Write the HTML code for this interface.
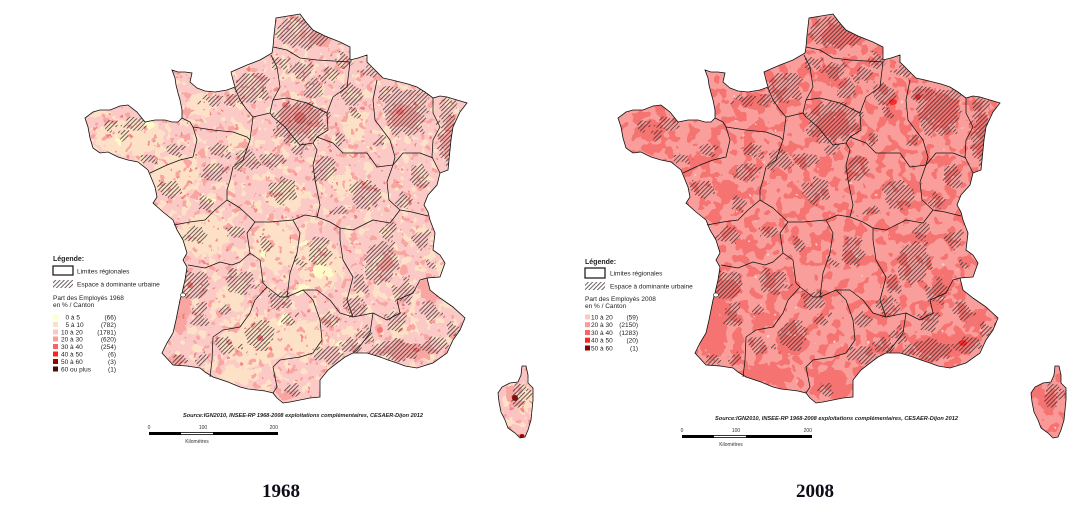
<!DOCTYPE html>
<html><head><meta charset="utf-8"><style>
html,body{margin:0;padding:0;background:#fff;}
svg{display:block;}
.s{font-family:"Liberation Sans",Arial,sans-serif;}
.yr{font-family:"Liberation Serif","Times New Roman",serif;font-weight:bold;font-size:19px;}
</style></head><body>
<svg width="1079" height="524" viewBox="0 0 1079 524" xmlns="http://www.w3.org/2000/svg">
<defs>
<path id="fr" d="M300,14 L306,22 313,30 325,36 340,42 350,47 350,60 358,58 367,55 367,62 375,70 383,78 392,80 400,82 408,84 417,87 425,92 433,98 440,96 447,97 457,100 467,103 460,112 453,127 451,140 450,150 449,160 448,170 440,173 437,185 428,195 424,205 428,212 430,220 435,233 433,250 440,255 445,263 440,277 427,278 430,290 440,298 453,307 465,318 460,330 453,340 447,353 433,363 417,368 405,366 397,363 388,360 380,357 367,353 353,353 345,357 337,363 328,370 320,380 320,390 320,397 310,398 300,400 290,402 283,403 277,398 273,393 265,391 257,390 248,389 240,387 228,382 213,377 205,372 200,368 187,366 173,365 162,353 167,343 173,333 176,320 178,310 180,300 182,293 185,280 187,267 183,260 187,253 183,240 177,230 173,220 163,212 153,203 157,197 155,187 148,170 138,162 128,160 118,157 108,152 100,153 93,148 90,138 88,127 85,118 93,112 100,110 110,110 120,106 128,105 137,112 145,122 155,120 165,120 172,122 178,122 182,118 182,110 180,100 178,93 176,85 175,78 172,70 178,72 185,72 192,73 190,82 197,88 205,91 215,92 227,90 235,87 233,80 231,72 240,68 247,65 260,60 272,53 273,47 274,35 276,18 288,16 Z"/>
<path id="co" d="M522,366 L526,366 528,375 528,383 533,388 533,400 532,410 531,420 528,430 525,437 520,438 515,433 508,428 505,420 501,412 499,402 498,393 502,387 510,383 518,382 521,375 Z"/>
<clipPath id="cf"><use href="#fr"/><use href="#co"/></clipPath>
<pattern id="h" width="3" height="3" patternUnits="userSpaceOnUse" patternTransform="rotate(45)">
<line x1="0.5" y1="0" x2="0.5" y2="3" stroke="#3a2a2a" stroke-width="0.75"/>
</pattern>

<filter id="rough" x="-15%" y="-15%" width="130%" height="130%">
<feTurbulence type="fractalNoise" baseFrequency="0.11" numOctaves="2" seed="5" result="t"/>
<feDisplacementMap in="SourceGraphic" in2="t" scale="16" xChannelSelector="R" yChannelSelector="G"/>
</filter>
<filter id="rough2" x="-15%" y="-15%" width="130%" height="130%">
<feTurbulence type="fractalNoise" baseFrequency="0.14" numOctaves="2" seed="11" result="t"/>
<feDisplacementMap in="SourceGraphic" in2="t" scale="14" xChannelSelector="R" yChannelSelector="G"/>
</filter>

<filter id="spCream" filterUnits="userSpaceOnUse" x="0" y="0" width="560" height="460" color-interpolation-filters="sRGB">
<feTurbulence type="fractalNoise" baseFrequency="0.11" numOctaves="2" seed="3"/>
<feColorMatrix type="matrix" values="0 0 0 0 0.992  0 0 0 0 0.886  0 0 0 0 0.78  1 0 0 0 0"/>
<feComponentTransfer><feFuncA type="discrete" tableValues="0 0 0 0 0 0 0 0 0 0 0 0 1 1 1 1 1 1 1 1"/></feComponentTransfer>
</filter>
<filter id="spDark1" filterUnits="userSpaceOnUse" x="0" y="0" width="560" height="460" color-interpolation-filters="sRGB">
<feTurbulence type="fractalNoise" baseFrequency="0.12" numOctaves="2" seed="21"/>
<feColorMatrix type="matrix" values="0 0 0 0 0.976  0 0 0 0 0.65  0 0 0 0 0.64  1 0 0 0 0"/>
<feComponentTransfer><feFuncA type="discrete" tableValues="0 0 0 0 0 0 0 0 0 0 0 0 0 1 1 1 1 1 1 1"/></feComponentTransfer>
</filter>
<filter id="spSal1" filterUnits="userSpaceOnUse" x="0" y="0" width="560" height="460" color-interpolation-filters="sRGB">
<feTurbulence type="fractalNoise" baseFrequency="0.15" numOctaves="2" seed="41"/>
<feColorMatrix type="matrix" values="0 0 0 0 0.96  0 0 0 0 0.40  0 0 0 0 0.40  1 0 0 0 0"/>
<feComponentTransfer><feFuncA type="discrete" tableValues="0 0 0 0 0 0 0 0 0 0 0 0 0 0 0 1 1 1 1 1"/></feComponentTransfer>
</filter>
<filter id="spDark2" filterUnits="userSpaceOnUse" x="0" y="0" width="560" height="460" color-interpolation-filters="sRGB">
<feTurbulence type="fractalNoise" baseFrequency="0.09" numOctaves="2" seed="9"/>
<feColorMatrix type="matrix" values="0 0 0 0 0.96  0 0 0 0 0.45  0 0 0 0 0.44  1 0 0 0 0"/>
<feComponentTransfer><feFuncA type="discrete" tableValues="0 0 0 0 0 0 0 0 0 0 0 1 1 1 1 1 1 1 1 1"/></feComponentTransfer>
</filter>
<filter id="spLight2" filterUnits="userSpaceOnUse" x="0" y="0" width="560" height="460" color-interpolation-filters="sRGB">
<feTurbulence type="fractalNoise" baseFrequency="0.15" numOctaves="2" seed="31"/>
<feColorMatrix type="matrix" values="0 0 0 0 0.99  0 0 0 0 0.78  0 0 0 0 0.77  1 0 0 0 0"/>
<feComponentTransfer><feFuncA type="discrete" tableValues="0 0 0 0 0 0 0 0 0 0 0 0 0 0 0 0 1 1 1 1"/></feComponentTransfer>
</filter>

<mask id="hm" maskUnits="userSpaceOnUse" x="0" y="0" width="560" height="460">
<g fill="#fff" filter="url(#rough)">
<ellipse cx="305" cy="32" rx="28" ry="16"/>
<ellipse cx="300" cy="70" rx="12" ry="8"/>
<ellipse cx="330" cy="75" rx="8" ry="6"/>
<ellipse cx="280" cy="62" rx="8" ry="6"/>
<ellipse cx="252" cy="88" rx="18" ry="15"/>
<ellipse cx="232" cy="100" rx="6" ry="5"/>
<ellipse cx="300" cy="122" rx="27" ry="20"/>
<ellipse cx="315" cy="88" rx="10" ry="8"/>
<ellipse cx="350" cy="95" rx="10" ry="10"/>
<ellipse cx="340" cy="140" rx="6" ry="6"/>
<ellipse cx="405" cy="112" rx="22" ry="24"/>
<ellipse cx="422" cy="95" rx="8" ry="6"/>
<ellipse cx="448" cy="130" rx="9" ry="35"/>
<ellipse cx="420" cy="178" rx="9" ry="11"/>
<ellipse cx="135" cy="125" rx="13" ry="7"/>
<ellipse cx="125" cy="138" rx="6" ry="5"/>
<ellipse cx="175" cy="150" rx="8" ry="7"/>
<ellipse cx="150" cy="160" rx="9" ry="5"/>
<ellipse cx="170" cy="190" rx="11" ry="9"/>
<ellipse cx="215" cy="172" rx="12" ry="9"/>
<ellipse cx="245" cy="160" rx="12" ry="10"/>
<ellipse cx="220" cy="150" rx="9" ry="7"/>
<ellipse cx="210" cy="100" rx="10" ry="6"/>
<ellipse cx="272" cy="160" rx="11" ry="9"/>
<ellipse cx="285" cy="190" rx="14" ry="12"/>
<ellipse cx="325" cy="170" rx="12" ry="12"/>
<ellipse cx="365" cy="195" rx="16" ry="14"/>
<ellipse cx="382" cy="262" rx="16" ry="22"/>
<ellipse cx="405" cy="292" rx="11" ry="11"/>
<ellipse cx="420" cy="240" rx="9" ry="9"/>
<ellipse cx="360" cy="285" rx="8" ry="8"/>
<ellipse cx="320" cy="252" rx="10" ry="14"/>
<ellipse cx="195" cy="235" rx="11" ry="9"/>
<ellipse cx="235" cy="232" rx="10" ry="6"/>
<ellipse cx="265" cy="245" rx="8" ry="8"/>
<ellipse cx="240" cy="282" rx="14" ry="12"/>
<ellipse cx="195" cy="285" rx="14" ry="14"/>
<ellipse cx="260" cy="335" rx="14" ry="14"/>
<ellipse cx="180" cy="360" rx="8" ry="5"/>
<ellipse cx="200" cy="360" rx="6" ry="4"/>
<ellipse cx="330" cy="355" rx="15" ry="8"/>
<ellipse cx="350" cy="345" rx="8" ry="6"/>
<ellipse cx="395" cy="350" rx="25" ry="10"/>
<ellipse cx="435" cy="345" rx="15" ry="8"/>
<ellipse cx="455" cy="330" rx="8" ry="6"/>
<ellipse cx="290" cy="390" rx="8" ry="5"/>
<ellipse cx="365" cy="335" rx="8" ry="8"/>
<ellipse cx="520" cy="395" rx="8" ry="12"/>
<ellipse cx="355" cy="112" rx="6" ry="5"/>
<ellipse cx="380" cy="140" rx="5" ry="6"/>
<ellipse cx="205" cy="205" rx="8" ry="8"/>
<ellipse cx="300" cy="150" rx="8" ry="6"/>
<ellipse cx="390" cy="230" rx="8" ry="8"/>
<ellipse cx="355" cy="305" rx="10" ry="10"/>
<ellipse cx="280" cy="300" rx="10" ry="8"/>
<ellipse cx="225" cy="345" rx="10" ry="8"/>
<ellipse cx="200" cy="315" rx="8" ry="10"/>
<ellipse cx="330" cy="320" rx="8" ry="8"/>
<ellipse cx="395" cy="322" rx="10" ry="10"/>
<ellipse cx="430" cy="310" rx="8" ry="10"/>
<ellipse cx="405" cy="200" rx="8" ry="8"/>
<ellipse cx="370" cy="70" rx="10" ry="8"/>
<ellipse cx="385" cy="95" rx="8" ry="8"/>
<ellipse cx="345" cy="60" rx="10" ry="6"/>
<ellipse cx="110" cy="125" rx="6" ry="5"/>
<ellipse cx="240" cy="60" rx="8" ry="6"/>
<ellipse cx="340" cy="210" rx="6" ry="5"/>
<ellipse cx="290" cy="320" rx="6" ry="5"/>
<ellipse cx="225" cy="310" rx="5" ry="5"/>
<ellipse cx="300" cy="262" rx="6" ry="6"/>
<ellipse cx="240" cy="350" rx="5" ry="4"/>
<ellipse cx="430" cy="262" rx="5" ry="6"/>
</g>
</mask>

<g id="regs" fill="none" stroke="#111" stroke-width="0.75" stroke-linejoin="round">
<polyline points="273,47 287,50 300,58 317,60 350,62"/>
<polyline points="235,88 240,100 247,110 253,117 270,113 273,100 280,87 277,67 271,55"/>
<polyline points="273,100 287,98 307,103 327,113 328,130 317,137 313,143 300,145 293,137 285,127 273,117 270,113"/>
<polyline points="350,62 347,87 333,97 327,113"/>
<polyline points="377,80 373,100 375,120 390,140 395,157 393,165"/>
<polyline points="433,98 433,113 440,127 433,140 432,157 440,173"/>
<polyline points="393,165 403,153 420,153 433,158"/>
<polyline points="317,137 333,143 343,153 367,153 377,167 393,165"/>
<polyline points="393,165 387,182 389,200 400,210 412,212 428,216"/>
<polyline points="400,210 390,223 373,220 353,230 340,228"/>
<polyline points="313,143 317,150 313,165 315,180 320,205 317,217"/>
<polyline points="317,217 330,222 340,228"/>
<polyline points="253,117 250,140 243,160 233,167 230,180 227,190 227,200 240,208 255,222"/>
<polyline points="255,222 270,222 293,220 305,215 317,217"/>
<polyline points="182,118 190,122 193,127 213,130 233,132 247,137 250,140"/>
<polyline points="193,127 197,140 193,157 180,160 167,165 150,173"/>
<polyline points="174,225 190,222 205,220 215,210 227,200"/>
<polyline points="188,265 205,268 220,262 232,265 240,262 250,253 247,233 255,222"/>
<polyline points="250,253 260,260 263,283 267,287"/>
<polyline points="267,287 255,300 250,313 240,327 223,330 213,337 212,360 210,377"/>
<polyline points="293,220 300,233 297,253 290,273 287,297"/>
<polyline points="267,287 280,297 287,297 303,290 317,290"/>
<polyline points="317,290 330,300 340,313 353,317"/>
<polyline points="340,228 340,240 343,260 353,277 347,300 353,317"/>
<polyline points="303,290 313,300 320,320 322,340 313,353 300,357 280,360 273,367 277,387 273,393"/>
<polyline points="353,317 373,313 387,320 400,313 397,300 413,293 420,280 427,278"/>
<polyline points="373,313 370,333 357,350 353,353"/>
</g>
</defs>

<!-- ============ MAP 1968 ============ -->
<g>
<use href="#fr" fill="#fbc9c6"/>
<use href="#co" fill="#fbc4c2"/>
<g clip-path="url(#cf)">
<g fill="#fde1c6" filter="url(#rough2)">
<ellipse cx="130" cy="137" rx="35" ry="18"/>
<ellipse cx="175" cy="175" rx="25" ry="20"/>
<ellipse cx="200" cy="105" rx="15" ry="12"/>
<ellipse cx="205" cy="235" rx="25" ry="20"/>
<ellipse cx="275" cy="245" rx="22" ry="25"/>
<ellipse cx="320" cy="265" rx="22" ry="25"/>
<ellipse cx="255" cy="340" rx="35" ry="25"/>
<ellipse cx="305" cy="340" rx="20" ry="20"/>
<ellipse cx="285" cy="195" rx="20" ry="15"/>
<ellipse cx="345" cy="185" rx="12" ry="12"/>
<ellipse cx="240" cy="375" rx="20" ry="8"/>
<ellipse cx="355" cy="125" rx="12" ry="15"/>
<ellipse cx="230" cy="300" rx="15" ry="12"/>
<ellipse cx="240" cy="140" rx="12" ry="10"/>
<ellipse cx="525" cy="400" rx="6" ry="15"/>
<ellipse cx="400" cy="330" rx="8" ry="6"/>
</g>
<rect x="0" y="0" width="560" height="460" filter="url(#spCream)"/>
<rect x="0" y="0" width="560" height="460" filter="url(#spDark1)"/>
<g fill="#fffbc8" filter="url(#rough)">
<ellipse cx="322" cy="270" rx="10" ry="8"/>
<ellipse cx="300" cy="290" rx="6" ry="5"/>
<ellipse cx="120" cy="140" rx="6" ry="4"/>
<ellipse cx="150" cy="125" rx="5" ry="4"/>
<ellipse cx="262" cy="255" rx="5" ry="5"/>
<ellipse cx="285" cy="320" rx="6" ry="4"/>
<ellipse cx="210" cy="200" rx="5" ry="4"/>
<ellipse cx="340" cy="345" rx="5" ry="4"/>
<ellipse cx="300" cy="245" rx="5" ry="4"/>
</g>
<g fill="#f9a5a2" filter="url(#rough)">
<ellipse cx="300" cy="120" rx="20" ry="15"/>
<ellipse cx="405" cy="115" rx="15" ry="12"/>
<ellipse cx="180" cy="305" rx="10" ry="30"/>
<ellipse cx="410" cy="350" rx="25" ry="8"/>
<ellipse cx="320" cy="40" rx="12" ry="8"/>
<ellipse cx="450" cy="140" rx="6" ry="25"/>
<ellipse cx="175" cy="360" rx="10" ry="6"/>
<ellipse cx="285" cy="395" rx="8" ry="5"/>
<ellipse cx="385" cy="265" rx="8" ry="8"/>
<ellipse cx="430" cy="290" rx="10" ry="12"/>
<ellipse cx="510" cy="395" rx="6" ry="8"/>
</g>
<rect x="0" y="0" width="560" height="460" filter="url(#spSal1)" opacity="0.7"/>
<g fill="#f47676">
<ellipse cx="300" cy="118" rx="6" ry="6"/>
<ellipse cx="285" cy="105" rx="3" ry="3"/>
<ellipse cx="380" cy="330" rx="3" ry="3"/>
<ellipse cx="190" cy="285" rx="3" ry="3"/>
<ellipse cx="400" cy="112" rx="4" ry="3"/>
<ellipse cx="260" cy="338" rx="3" ry="3"/>
<ellipse cx="417" cy="350" rx="4" ry="2"/>
</g>
<ellipse cx="515" cy="398" rx="3" ry="3" fill="#a00000"/>
<ellipse cx="522" cy="436" rx="2.5" ry="2" fill="#a00000"/>
<rect x="0" y="0" width="560" height="460" fill="url(#h)" mask="url(#hm)"/>
</g>
<use href="#fr" fill="none" stroke="#111" stroke-width="0.8"/>
<use href="#co" fill="none" stroke="#111" stroke-width="0.8"/>
<use href="#regs"/>
<ellipse cx="183" cy="295" rx="2.5" ry="2" fill="#fff" stroke="#111" stroke-width="0.6"/>
</g>

<!-- ============ MAP 2008 ============ -->
<g transform="translate(533,0)">
<use href="#fr" fill="#fa9e9c"/>
<use href="#co" fill="#fa9a98"/>
<g clip-path="url(#cf)">
<rect x="0" y="0" width="560" height="460" filter="url(#spDark2)"/>
<g fill="#f57371" filter="url(#rough2)">
<ellipse cx="180" cy="320" rx="15" ry="40"/>
<ellipse cx="235" cy="375" rx="30" ry="10"/>
<ellipse cx="300" cy="380" rx="15" ry="12"/>
<ellipse cx="195" cy="290" rx="12" ry="10"/>
<ellipse cx="120" cy="130" rx="15" ry="10"/>
<ellipse cx="165" cy="160" rx="10" ry="8"/>
<ellipse cx="310" cy="35" rx="20" ry="12"/>
<ellipse cx="300" cy="125" rx="18" ry="12"/>
<ellipse cx="410" cy="110" rx="15" ry="15"/>
<ellipse cx="410" cy="345" rx="30" ry="12"/>
<ellipse cx="410" cy="285" rx="12" ry="12"/>
<ellipse cx="215" cy="245" rx="10" ry="8"/>
<ellipse cx="260" cy="345" rx="15" ry="10"/>
<ellipse cx="290" cy="165" rx="8" ry="8"/>
<ellipse cx="360" cy="115" rx="8" ry="8"/>
<ellipse cx="295" cy="75" rx="12" ry="8"/>
<ellipse cx="220" cy="100" rx="12" ry="8"/>
<ellipse cx="195" cy="190" rx="12" ry="10"/>
<ellipse cx="230" cy="320" rx="10" ry="8"/>
<ellipse cx="450" cy="135" rx="6" ry="20"/>
<ellipse cx="515" cy="405" rx="8" ry="12"/>
<ellipse cx="440" cy="320" rx="12" ry="10"/>
</g>
<rect x="0" y="0" width="560" height="460" filter="url(#spLight2)"/>
<g fill="#ff2a2a">
<ellipse cx="360" cy="102" rx="4" ry="3"/>
<ellipse cx="385" cy="97" rx="3" ry="3"/>
<ellipse cx="464" cy="325" rx="3" ry="3"/>
<ellipse cx="430" cy="343" rx="4" ry="3"/>
</g>
<rect x="0" y="0" width="560" height="460" fill="url(#h)" mask="url(#hm)"/>
</g>
<use href="#fr" fill="none" stroke="#111" stroke-width="0.8"/>
<use href="#co" fill="none" stroke="#111" stroke-width="0.8"/>
<use href="#regs"/>
<ellipse cx="183" cy="295" rx="2.5" ry="2" fill="#fff" stroke="#111" stroke-width="0.6"/>
</g>

<!-- ============ LEGEND 1968 ============ -->
<g class="s" font-size="6.5" fill="#222">
<text x="53" y="261" font-weight="bold" font-size="7">Légende:</text>
<rect x="53" y="266" width="20" height="9" fill="#fff" stroke="#111" stroke-width="1.2"/>
<text x="77" y="273.5">Limites régionales</text>
<rect x="53" y="280" width="20" height="8" fill="url(#h)"/>
<text x="77" y="286.5">Espace à dominante urbaine</text>
<text x="53" y="300">Part des Employés 1968</text>
<text x="53" y="307">en  % / Canton</text>
<rect x="53" y="314.5" width="5" height="5" fill="#ffffc8"/>
<rect x="53" y="322" width="5" height="5" fill="#fde0c2"/>
<rect x="53" y="329.5" width="5" height="5" fill="#fcc8c6"/>
<rect x="53" y="336.5" width="5" height="5" fill="#fa9c9a"/>
<rect x="53" y="344" width="5" height="5" fill="#f76565"/>
<rect x="53" y="351.5" width="5" height="5" fill="#ff2020"/>
<rect x="53" y="359" width="5" height="5" fill="#a00000"/>
<rect x="53" y="366.5" width="5" height="5" fill="#4a0c0c"/>
<text x="65.5" y="319.3">0 à  5</text><text x="116" y="319.3" text-anchor="end">(66)</text>
<text x="65.5" y="326.8">5 à 10</text><text x="116" y="326.8" text-anchor="end">(782)</text>
<text x="61" y="334.3">10 à 20</text><text x="116" y="334.3" text-anchor="end">(1781)</text>
<text x="61" y="341.3">20 à 30</text><text x="116" y="341.3" text-anchor="end">(620)</text>
<text x="61" y="348.8">30 à 40</text><text x="116" y="348.8" text-anchor="end">(254)</text>
<text x="61" y="356.3">40 à 50</text><text x="116" y="356.3" text-anchor="end">(6)</text>
<text x="61" y="363.8">50 à 60</text><text x="116" y="363.8" text-anchor="end">(3)</text>
<text x="61" y="371.3">60 ou plus</text><text x="116" y="371.3" text-anchor="end">(1)</text>
</g>

<!-- ============ LEGEND 2008 ============ -->
<g class="s" font-size="6.5" fill="#222">
<text x="585" y="264" font-weight="bold" font-size="7">Légende:</text>
<rect x="585" y="268" width="20" height="10" fill="#fff" stroke="#111" stroke-width="1.2"/>
<text x="610" y="275.5">Limites régionales</text>
<rect x="585" y="282" width="20" height="8" fill="url(#h)"/>
<text x="610" y="288.5">Espace à dominante urbaine</text>
<text x="585" y="301">Part des Employés 2008</text>
<text x="585" y="308">en  % / Canton</text>
<rect x="585" y="314.5" width="5" height="5" fill="#fcc8c6"/>
<rect x="585" y="322.2" width="5" height="5" fill="#fa9c9a"/>
<rect x="585" y="330" width="5" height="5" fill="#f76565"/>
<rect x="585" y="337.7" width="5" height="5" fill="#ff2020"/>
<rect x="585" y="345.5" width="5" height="5" fill="#8b0000"/>
<text x="591" y="319.3">10 à 20</text><text x="638" y="319.3" text-anchor="end">(59)</text>
<text x="591" y="327">20 à 30</text><text x="638" y="327" text-anchor="end">(2150)</text>
<text x="591" y="334.8">30 à 40</text><text x="638" y="334.8" text-anchor="end">(1283)</text>
<text x="591" y="342.5">40 à 50</text><text x="638" y="342.5" text-anchor="end">(20)</text>
<text x="591" y="350.3">50 à 60</text><text x="638" y="350.3" text-anchor="end">(1)</text>
</g>

<!-- ============ SOURCE & SCALES ============ -->
<text class="s" x="183" y="417" font-size="5.6" font-weight="bold" font-style="italic" fill="#222" textLength="240" lengthAdjust="spacingAndGlyphs">Source:IGN2010, INSEE-RP 1968-2008 exploitations complémentaires, CESAER-Dijon 2012</text>
<text class="s" x="715" y="420" font-size="5.6" font-weight="bold" font-style="italic" fill="#222" textLength="243" lengthAdjust="spacingAndGlyphs">Source:IGN2010, INSEE-RP 1968-2008 exploitations complémentaires, CESAER-Dijon 2012</text>

<g class="s" font-size="5" fill="#333">
<text x="149" y="429" text-anchor="middle">0</text>
<text x="203" y="429" text-anchor="middle">100</text>
<text x="278" y="429" text-anchor="end">200</text>
<rect x="149" y="432" width="129" height="3" fill="#000"/>
<rect x="181" y="432.8" width="32" height="1.4" fill="#fff"/>
<text x="197" y="443" text-anchor="middle">Kilomètres</text>

<text x="682" y="432" text-anchor="middle">0</text>
<text x="736" y="432" text-anchor="middle">100</text>
<text x="812" y="432" text-anchor="end">200</text>
<rect x="682" y="435" width="130" height="3" fill="#000"/>
<rect x="714" y="435.8" width="32" height="1.4" fill="#fff"/>
<text x="731" y="446" text-anchor="middle">Kilomètres</text>
</g>

<text class="yr" x="281" y="497" text-anchor="middle" fill="#0d0d1a">1968</text>
<text class="yr" x="815" y="497" text-anchor="middle" fill="#0d0d1a">2008</text>
</svg>
</body></html>
